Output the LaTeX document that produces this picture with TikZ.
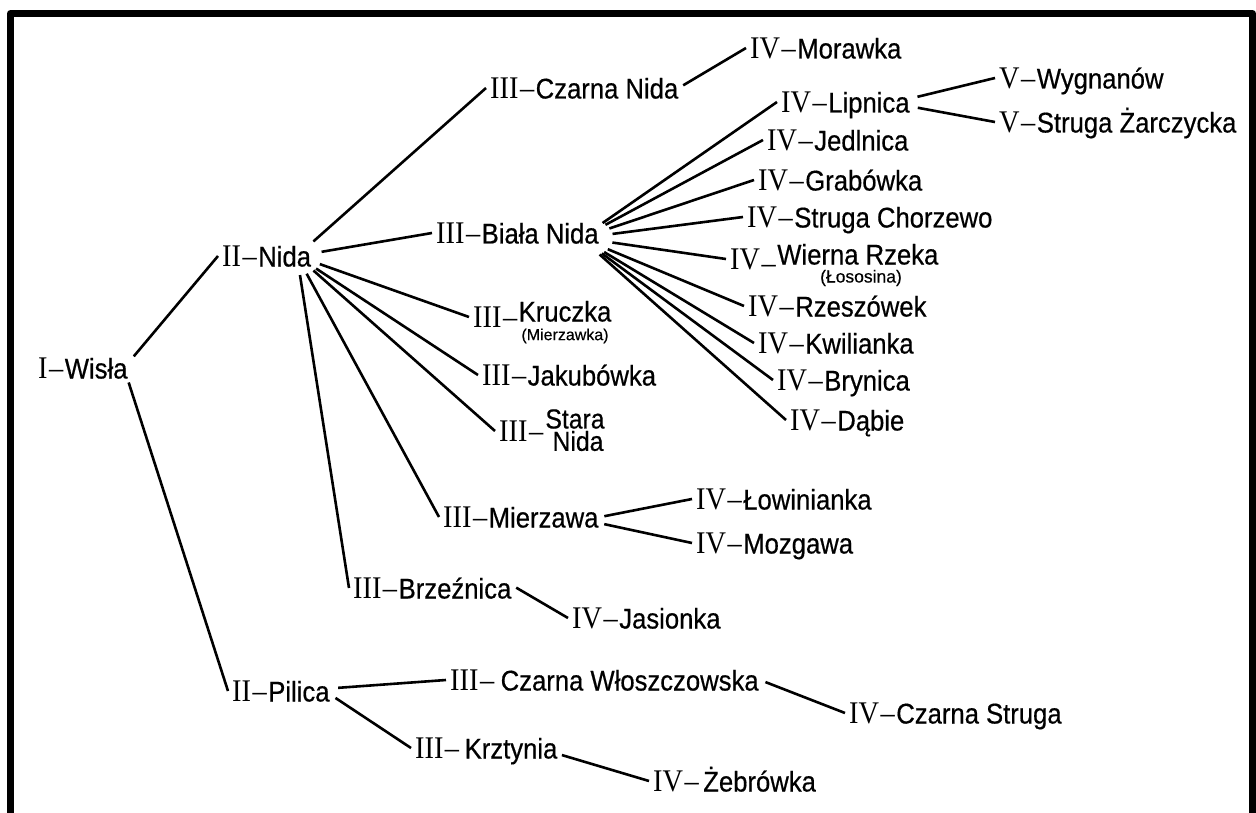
\documentclass[tikz,border=0pt]{standalone}
\usepackage{fontspec}
\usetikzlibrary{shapes.geometric}
\newfontfamily\romf[FakeStretch=0.9]{Liberation Serif}
\newfontfamily\sanf[FakeStretch=0.9,FakeBold=0.5]{Liberation Sans}
\newfontfamily\sanp[FakeBold=0.4]{Liberation Sans}
\newcommand\rn[1]{{\romf\fontsize{31.5}{34}\selectfont #1}}
\newcommand\dsh{{\romf\fontsize{31.5}{34}\selectfont\hspace{1.5pt}–\hspace{1.5pt}}}
\newcommand\nm[1]{{\sanf\fontsize{28.5}{32}\selectfont #1}}
\newcommand\lb[2]{\rn{#1}\dsh\nm{#2}}
\begin{document}
\begin{tikzpicture}[x=1pt,y=-1pt,
  lab/.style={anchor=west,inner xsep=4pt,inner ysep=0pt,text height=21pt,text depth=0pt},
  hubc/.style={circle,inner sep=0pt,minimum size=#1},
  hube/.style 2 args={ellipse,inner sep=0pt,minimum width=#1,minimum height=#2},
  br/.style={line width=2.6pt},
  frame/.style={line width=7pt,line join=round}]
\useasboundingbox (0,0) rectangle (1256,813);
\draw[frame] (10.5,830) -- (10.5,13.5) -- (1252.5,13.5) -- (1252.5,830);

% level I, II
\node[lab] (wisla) at (34,368) {\lb{I}{Wisła}};
\node[lab] (nida) at (218,256) {\lb{II}{Nida}};
\node[lab] (pilica) at (228,691) {\lb{II}{Pilica}};

% level III under Nida
\node[lab] (czarna) at (486,88) {\lb{III}{Czarna Nida}};
\node[lab] (biala) at (432,233) {\lb{III}{Biała Nida}};
\node[lab] (kruczka) at (469,317) {\rn{III}\dsh\raisebox{6pt}{\nm{Kruczka}}};
\node[inner sep=0pt] (mierzL) at (565,336) {\sanp\fontsize{16}{18}\selectfont (Mierzawka)};
\node[lab] (jakub) at (478,375) {\lb{III}{Jakubówka}};
\node[lab] (stara) at (495,431) {\rn{III}\dsh};
\node[inner sep=0pt,font=\sanf\fontsize{27.5}{22}\selectfont] (staraA) at (575,419) {Stara};
\node[inner sep=0pt,font=\sanf\fontsize{27.5}{22}\selectfont] (staraB) at (578,441) {Nida};
\node[lab] (mierzawa) at (439,517) {\lb{III}{Mierzawa}};
\node[lab] (brzeznica) at (349,588) {\lb{III}{Brzeźnica}};

% level III under Pilica
\node[lab] (czwl) at (446,680) {\rn{III}\dsh\hspace{5pt}\nm{Czarna Włoszczowska}};
\node[lab] (krztynia) at (411,748) {\rn{III}\dsh\hspace{4pt}\nm{Krztynia}};

% level IV
\node[lab] (morawka) at (746,48) {\lb{IV}{Morawka}};
\node[lab] (lipnica) at (777,102) {\lb{IV}{Lipnica}};
\node[lab] (jedlnica) at (763,140) {\lb{IV}{Jedlnica}};
\node[lab] (grabowka) at (754,180) {\lb{IV}{Grabówka}};
\node[lab] (struga) at (743,217) {\lb{IV}{Struga Chorzewo}};
\node[lab] (wierna) at (726,259) {\rn{IV}\raisebox{-4pt}{\dsh}\raisebox{5pt}{\nm{Wierna Rzeka}}};
\node[inner sep=0pt] (losL) at (861,278) {\sanp\fontsize{17.5}{19}\selectfont (Łososina)};
\node[lab] (rzeszowek) at (744,306) {\lb{IV}{Rzeszówek}};
\node[lab] (kwilianka) at (754,343) {\lb{IV}{Kwilianka}};
\node[lab] (brynica) at (773,380) {\lb{IV}{Brynica}};
\node[lab] (dabie) at (786,420) {\lb{IV}{Dąbie}};
\node[lab] (lowinianka) at (692,499) {\lb{IV}{Łowinianka}};
\node[lab] (mozgawa) at (692,543) {\lb{IV}{Mozgawa}};
\node[lab] (jasionka) at (568,618) {\lb{IV}{Jasionka}};
\node[lab] (czstruga) at (845,713) {\lb{IV}{Czarna Struga}};
\node[lab] (zebrowka) at (649,781) {\rn{IV}\dsh\hspace{3pt}\nm{Żebrówka}};

% level V
\node[lab] (wygnanow) at (995,78) {\lb{V}{Wygnanów}};
\node[lab] (zarczycka) at (995,122) {\lb{V}{Struga Żarczycka}};

% hubs (invisible branching points)
\node[hubc=30pt] (wislaH) at (124,368) {};
\node[hube={50pt}{38pt}] (nidaH) at (297,256) {};
\node[hubc=32pt] (pilicaH) at (322,689) {};
\node[hubc=14pt] (czarnaH) at (677,89) {};
\node[hube={64pt}{40pt}] (bialaH) at (581,238) {};
\node[hubc=52pt] (lipnicaH) at (892,103) {};
\node[hubc=39pt] (mierzawaH) at (585,520) {};
\node[hubc=14pt] (brzeznicaH) at (510,584) {};
\node[hubc=22pt] (czwlH) at (755,678) {};
\node[hubc=14pt] (krztyniaH) at (555,753) {};

% connectors
\draw[br] (wislaH) -- (nida.west);
\draw[br] (wislaH) -- (pilica.west);
\foreach \c in {czarna,biala,kruczka,jakub,stara,mierzawa,brzeznica}
  \draw[br] (nidaH) -- (\c.west);
\draw[br] (czarnaH) -- (morawka.west);
\foreach \c in {lipnica,jedlnica,grabowka,struga,wierna,rzeszowek,kwilianka,brynica,dabie}
  \draw[br] (bialaH) -- (\c.west);
\draw[br] (lipnicaH) -- (wygnanow.west);
\draw[br] (lipnicaH) -- (zarczycka.west);
\draw[br] (mierzawaH) -- (lowinianka.west);
\draw[br] (mierzawaH) -- (mozgawa.west);
\draw[br] (brzeznicaH) -- (jasionka.west);
\draw[br] (pilicaH) -- (czwl.west);
\draw[br] (pilicaH) -- (krztynia.west);
\draw[br] (czwlH) -- (czstruga.west);
\draw[br] (krztyniaH) -- (zebrowka.west);
\end{tikzpicture}
\end{document}
